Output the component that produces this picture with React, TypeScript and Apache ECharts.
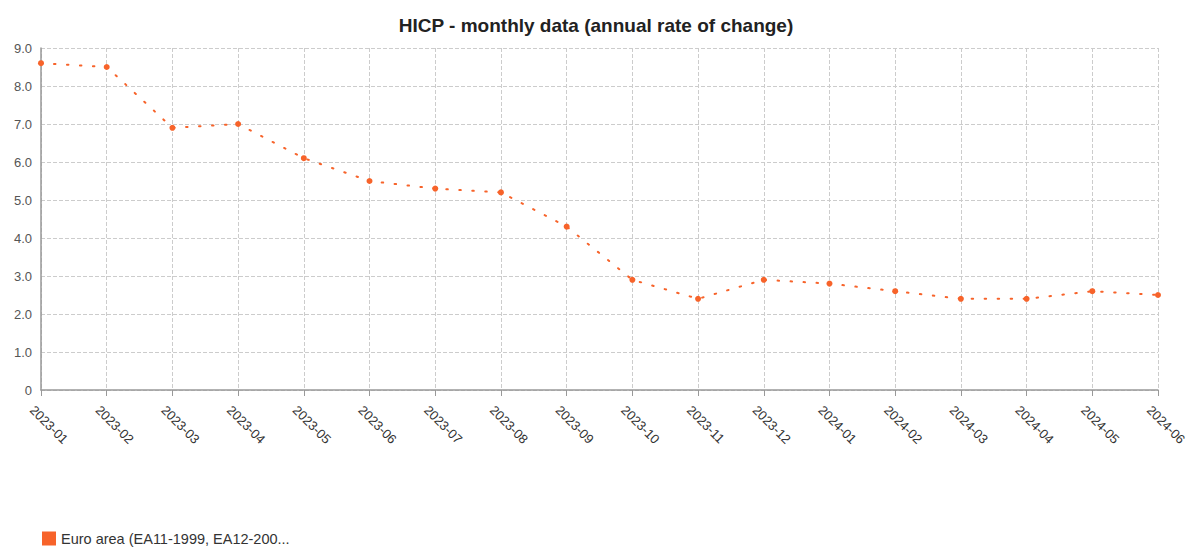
import React, { useEffect, useRef } from "react";
import * as echarts from "echarts";

const categories = [
  "2023-01", "2023-02", "2023-03", "2023-04", "2023-05", "2023-06",
  "2023-07", "2023-08", "2023-09", "2023-10", "2023-11", "2023-12",
  "2024-01", "2024-02", "2024-03", "2024-04", "2024-05", "2024-06",
];
const euroArea = [8.6, 8.5, 6.9, 7.0, 6.1, 5.5, 5.3, 5.2, 4.3, 2.9, 2.4, 2.9, 2.8, 2.6, 2.4, 2.4, 2.6, 2.5];
const seriesName = "Euro area (EA11-1999, EA12-200...";
const titleText = "HICP - monthly data (annual rate of change)";

export default function App() {
  const ref = useRef<HTMLDivElement>(null);
  useEffect(() => {
    if (!ref.current) return;
    const chart = echarts.init(ref.current, undefined, { renderer: "svg" });
    const font = "'Liberation Sans', Arial, sans-serif";
    chart.setOption({
      animation: false,
      textStyle: { fontFamily: font },
      title: {
        text: titleText,
        left: "center",
        top: 11,
        textStyle: { fontSize: 19, fontWeight: "bold", color: "#222", fontFamily: font },
      },
      legend: {
        left: 37,
        bottom: 0,
        itemWidth: 14,
        itemHeight: 14,
        itemGap: 10,
        icon: "rect",
        textStyle: { fontSize: 14.5, color: "#333", fontFamily: font },
        data: [{ name: seriesName, icon: "rect", itemStyle: { color: "#f7632a" } }],
      },
      grid: {
        left: 41,
        right: 34,
        top: 48,
        bottom: 161,
        containLabel: false,
        outerBoundsMode: "none",
      },
      xAxis: {
        type: "category",
        data: categories,
        boundaryGap: false,
        axisLine: { show: true, lineStyle: { color: "#999", width: 1.5 } },
        axisTick: { show: true, alignWithLabel: true, length: 6, lineStyle: { color: "#999" } },
        axisLabel: {
          rotate: -45,
          fontSize: 13,
          color: "#333",
          margin: 9,
          verticalAlign: "top",
          padding: [6, 0, 0, 0],
          fontFamily: font,
        },
        splitLine: { show: true, lineStyle: { color: "#ccc", type: "dashed" } },
      },
      yAxis: {
        type: "value",
        min: 0,
        max: 9,
        interval: 1,
        axisLine: { show: true, lineStyle: { color: "#999", width: 1.5 } },
        axisTick: { show: false },
        axisLabel: {
          fontSize: 13,
          color: "#555",
          margin: 9,
          fontFamily: font,
          formatter: (v: number) => (v === 0 ? "0" : v.toFixed(1)),
        },
        splitLine: { show: true, lineStyle: { color: "#ccc", type: "dashed" } },
      },
      series: [
        {
          name: seriesName,
          type: "line",
          data: euroArea,
          symbol: "circle",
          symbolSize: 6,
          itemStyle: { color: "#f7632a" },
          lineStyle: { color: "#f7632a", width: 2, type: [1.5, 11.5], cap: "round" },
        },
      ],
    });
    return () => chart.dispose();
  }, []);
  return (
    <div
      ref={ref}
      style={{ position: "absolute", left: 0, top: 0, width: 1192, height: 551, background: "#fff" }}
    />
  );
}
